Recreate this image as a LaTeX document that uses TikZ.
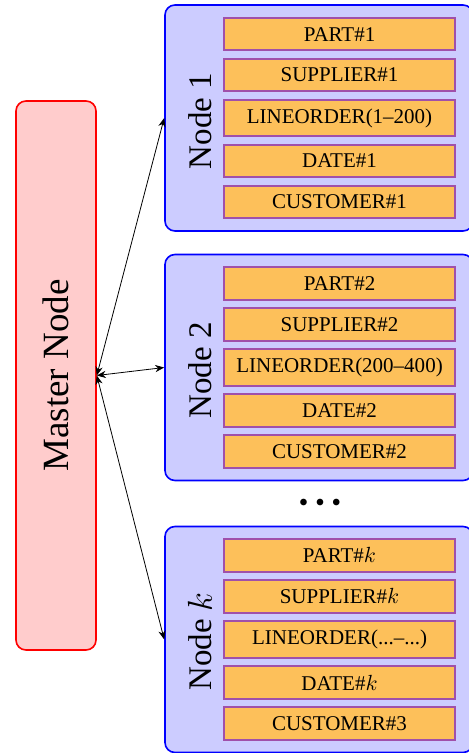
\documentclass[tikz,border=0pt]{standalone}
\usepackage{fontspec}
\setmainfont{Liberation Serif}
\usetikzlibrary{arrows.meta,positioning}

\definecolor{tblfill}{RGB}{253,192,90}
\definecolor{tbldraw}{RGB}{160,80,170}

\begin{document}
\begin{tikzpicture}[
  x=0.5pt, y=-0.5pt,
  node distance=3.3pt,
  master/.style={draw=red, fill=red!20, thick, rounded corners=5pt, minimum width=40pt, minimum height=274.5pt, font=\fontsize{18.5}{22}\selectfont},
  server/.style={draw=blue, fill=blue!20, thick, rounded corners=5pt, minimum width=154pt, minimum height=113pt},
  srvlabel/.style={rotate=90, font=\fontsize{16.5}{20}\selectfont},
  tbl/.style={draw=tbldraw, fill=tblfill, line width=1pt, minimum width=115.5pt, minimum height=16.2pt, inner ysep=4.3pt, font=\fontsize{10.5}{12.5}\selectfont},
  arrow/.style={{Stealth[length=4.5pt, width=3.6pt]}-{Stealth[length=4.5pt, width=3.6pt]}}
]
\useasboundingbox (0,0) rectangle (469,753);

\node[master] (master) at (56,375.5) {};
\node[rotate=90, font=\fontsize{18.5}{22}\selectfont] (masterlabel) at (master.center) {Master Node};

% node 1
\node[server] (n1) at (319,118) {};
\node[srvlabel] (n1label) at ([xshift=-59.5pt, yshift=-1.5pt]n1.center) {Node 1};
\node[tbl] (n1line) at ([xshift=10.25pt]n1.center) {LINEORDER(1--200)};
\node[tbl, above=of n1line] (n1supp) {SUPPLIER\#1};
\node[tbl, above=of n1supp] (n1part) {PART\#1};
\node[tbl, below=of n1line] (n1date) {DATE\#1};
\node[tbl, below=of n1date] (n1cust) {CUSTOMER\#1};

% node 2
\node[server] (n2) at (319,367.5) {};
\node[srvlabel] (n2label) at ([xshift=-59.5pt, yshift=-1.5pt]n2.center) {Node 2};
\node[tbl] (n2line) at ([xshift=10.25pt]n2.center) {LINEORDER(200--400)};
\node[tbl, above=of n2line] (n2supp) {SUPPLIER\#2};
\node[tbl, above=of n2supp] (n2part) {PART\#2};
\node[tbl, below=of n2line] (n2date) {DATE\#2};
\node[tbl, below=of n2date] (n2cust) {CUSTOMER\#2};

\node (dots) at (320,503) {\footnotesize$\bullet$\hspace{4pt}$\bullet$\hspace{4pt}$\bullet$};

% node k
\node[server] (nk) at (319,639.5) {};
\node[srvlabel] (nklabel) at ([xshift=-59.5pt, yshift=-1pt]nk.center) {Node $k$};
\node[tbl] (nkline) at ([xshift=10.25pt]nk.center) {LINEORDER(...--...)};
\node[tbl, above=of nkline] (nksupp) {SUPPLIER\#$k$};
\node[tbl, above=of nksupp] (nkpart) {PART\#$k$};
\node[tbl, below=of nkline] (nkdate) {DATE\#$k$};
\node[tbl, below=of nkdate] (nkcust) {CUSTOMER\#3};

\draw[arrow] (master.east) -- (n1.west);
\draw[arrow] (master.east) -- (n2.west);
\draw[arrow] (master.east) -- (nk.west);
\end{tikzpicture}
\end{document}
